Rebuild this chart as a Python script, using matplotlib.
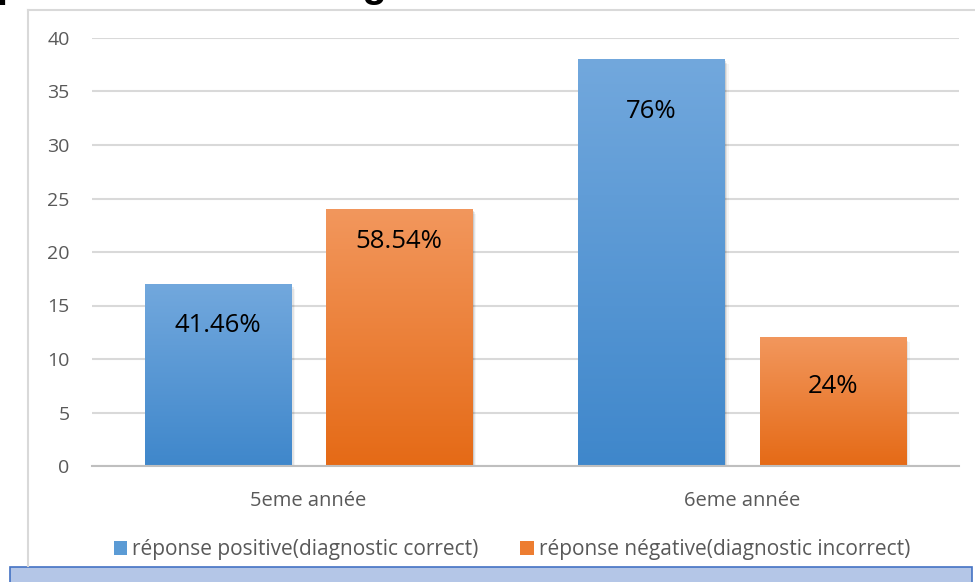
import numpy as np
import matplotlib
matplotlib.use("Agg")
import matplotlib.pyplot as plt
from matplotlib.colors import LinearSegmentedColormap
from matplotlib.patches import Rectangle, Patch

plt.rcParams['font.family'] = ['Open Sans', 'DejaVu Sans']

# Data
categories = ["5eme année", "6eme année"]
series_names = ["réponse positive(diagnostic correct)",
                "réponse négative(diagnostic incorrect)"]
positive = [17, 38]
negative = [24, 12]
yticks = [0, 5, 10, 15, 20, 25, 30, 35, 40]

# Styling
grad_blue = ("#72a8dd", "#3f87cb")
grad_orange = ("#f2975d", "#e56a16")
legend_blue = "#5b9bd5"
legend_orange = "#ed7d31"
bar_width = 0.337
offset = 0.209
label_drop = [3.9, 3.0, 4.9, 4.6]   # distance of each value label below its bar top

W, H = 975, 582
fig = plt.figure(figsize=(W / 100, H / 100), dpi=100)

# Title sitting above the chart area (only its lower edge falls on the canvas)
fig.text(-3 / W, 1 + 3 / H, "présentation du diagnostic",
         fontsize=28.5, fontweight="bold", family="Liberation Sans",
         ha="left", va="baseline", color="black")

# Outer chart frame
fig.add_artist(plt.Line2D([28 / W, 28 / W], [1 - 566 / H, 1 - 10 / H],
                          color="#d9d9d9", lw=1.5, transform=fig.transFigure))
fig.add_artist(plt.Line2D([28 / W, 1.0], [1 - 10 / H, 1 - 10 / H],
                          color="#d9d9d9", lw=1.5, transform=fig.transFigure))

# Light blue strip at the bottom
fig.add_artist(Rectangle((10 / W, 1 - 600 / H), 962 / W, 33 / H,
                         facecolor="#b4c6e7", edgecolor="#4472c4", lw=1.2,
                         transform=fig.transFigure))

ax = fig.add_axes([91.75 / W, (H - 466) / H, 867 / W, 428 / H])


def gradient_bar(ax, xc, h, colors):
    x0, x1 = xc - bar_width / 2, xc + bar_width / 2
    # soft shadow
    for i, a in enumerate([0.10, 0.07, 0.04]):
        d = 0.004 * (i + 1)
        ax.add_patch(Rectangle((x0 + d * 0.8, -0.15 * (i + 1)), bar_width, h,
                               facecolor="black", alpha=a, lw=0, zorder=2))
    cmap = LinearSegmentedColormap.from_list("g", [colors[1], colors[0]])
    grad = np.linspace(0, 1, 256).reshape(-1, 1)
    ax.imshow(grad, extent=[x0, x1, 0, h], origin="lower", aspect="auto",
              cmap=cmap, zorder=3, interpolation="bicubic")


x = np.arange(len(categories))
labels = []
for i in range(len(categories)):
    total = positive[i] + negative[i]
    gradient_bar(ax, x[i] - offset, positive[i], grad_blue)
    gradient_bar(ax, x[i] + offset, negative[i], grad_orange)
    labels.append((x[i] - offset, positive[i], positive[i] / total * 100))
    labels.append((x[i] + offset, negative[i], negative[i] / total * 100))

for (xc, h, pct), drop in zip(labels, label_drop):
    txt = f"{pct:.2f}".rstrip("0").rstrip(".") + "%"
    ax.text(xc, h - drop, txt, ha="center", va="center", fontsize=18.5,
            color="black", zorder=5)

ax.set_xlim(-0.5, 1.5)
ax.set_ylim(0, 40)
ax.set_yticks(yticks)
ax.set_xticks(x)
ax.set_xticklabels(categories)
ax.grid(axis="y", color="#d9d9d9", lw=1.5, zorder=0)
ax.set_axisbelow(True)
for s in ["top", "right", "left"]:
    ax.spines[s].set_visible(False)
ax.spines["bottom"].set_color("#bfbfbf")
ax.spines["bottom"].set_linewidth(1.5)
ax.spines["bottom"].set_zorder(4)
ax.tick_params(axis="both", length=0, colors="#595959", labelsize=14)
ax.tick_params(axis="x", labelsize=14.5, pad=18)
ax.tick_params(axis="y", pad=16)

handles = [Patch(facecolor=legend_blue, edgecolor="none"),
           Patch(facecolor=legend_orange, edgecolor="none")]
fig.legend(handles, series_names, loc="center",
           bbox_to_anchor=(512 / W, 1 - 550 / H), ncol=2, frameon=False,
           fontsize=15, labelcolor="#595959", handlelength=0.65,
           handleheight=0.65, handletextpad=0.25, columnspacing=2.0)

fig.savefig("out.png", dpi=100)
